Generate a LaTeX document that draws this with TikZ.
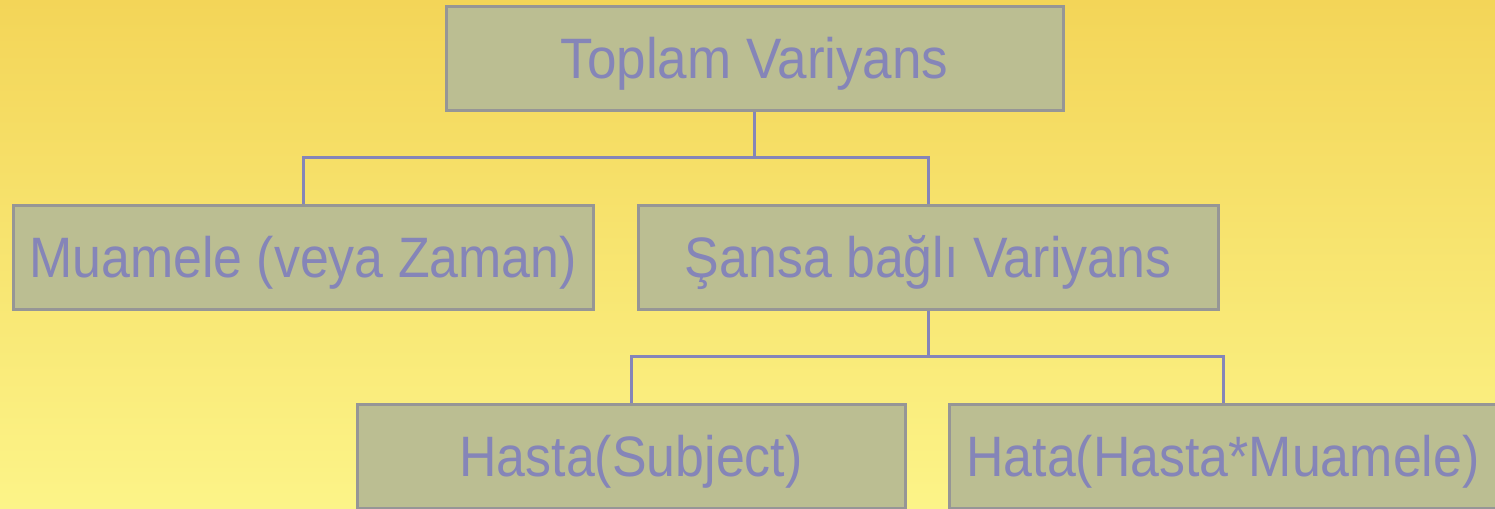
\documentclass[tikz,border=0pt]{standalone}
\usepackage{graphicx}
\usepackage{fontspec}
\setmainfont{Liberation Sans}
\definecolor{bgtop}{HTML}{F3D558}
\definecolor{bgbot}{HTML}{FCF488}
\definecolor{boxfill}{HTML}{BBBE92}
\definecolor{boxline}{HTML}{969696}
\definecolor{ink}{HTML}{8585B8}
\newcommand\narrowtext[2][0.91]{\scalebox{#1}[1]{#2}}
\tikzset{
  varbox/.style={draw=boxline, fill=boxfill, line width=2.25pt, rectangle,
    minimum height=104*0.75pt, inner sep=0pt, text=ink,
    font=\fontsize{42.75}{50}\selectfont, text height=30.6pt, text depth=0pt},
  link/.style={draw=ink, line width=2.25pt}
}
\begin{document}
\begin{tikzpicture}[x=0.75pt, y=-0.75pt]
  % background with vertical gradient
  \fill[top color=bgtop, bottom color=bgbot] (0,0) rectangle (1495,508);
  \useasboundingbox (0,0) rectangle (1495,508);
  \clip (0,0) rectangle (1495,508);

  % boxes
  \node[varbox, minimum width=617*0.75pt] (top) at (754.5,58) {\narrowtext[0.93]{Toplam Variyans}};
  \node[varbox, minimum width=580*0.75pt] (ml) at (303,257) {\narrowtext{Muamele (veya Zaman)}};
  \node[varbox, minimum width=580*0.75pt] (mr) at (928,257) {\narrowtext{Şansa bağlı Variyans}};
  \node[varbox, minimum width=548*0.75pt] (bl) at (631,456.5) {\narrowtext{Hasta(Subject)}};
  \node[varbox, minimum width=548*0.75pt] (br) at (1223,456.5) {\narrowtext{Hata(Hasta*Muamele)}};

  % junction points of the tree
  \coordinate (j1) at (754.5,157);
  \coordinate (j2) at (928,356);

  % connectors
  \draw[link] (top.south) -- (j1);
  \draw[link] (ml.north) |- (j1) -| (mr.north);
  \draw[link] (mr.south) -- (j2);
  \draw[link] (bl.north) |- (j2) -| (br.north);
\end{tikzpicture}
\end{document}
